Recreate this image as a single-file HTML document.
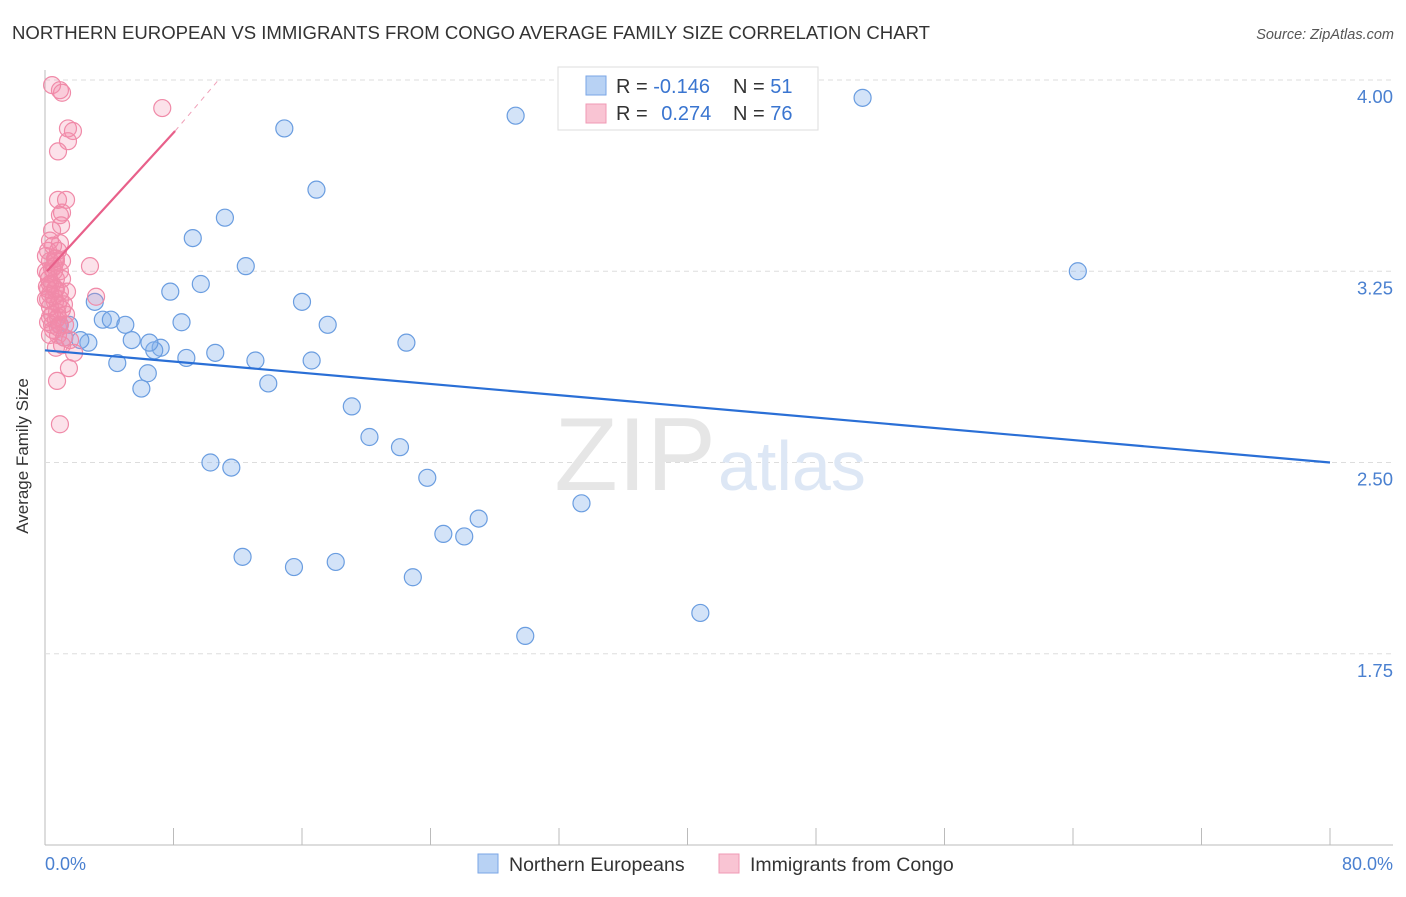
<!DOCTYPE html>
<html><head><meta charset="utf-8"><style>
body{margin:0;background:#fff;font-family:"Liberation Sans",sans-serif;}
svg text{font-family:"Liberation Sans",sans-serif;}
</style></head><body>
<svg width="1406" height="892">
<text x="12" y="39" font-size="18" fill="#333" textLength="918" lengthAdjust="spacingAndGlyphs">NORTHERN EUROPEAN VS IMMIGRANTS FROM CONGO AVERAGE FAMILY SIZE CORRELATION CHART</text>
<text x="1394" y="39" font-size="14.5" fill="#555" text-anchor="end" font-style="italic">Source: ZipAtlas.com</text>
<g id="grid"></g>
<text x="716" y="490" font-size="104" fill="#e6e6e6" text-anchor="end" font-family="Liberation Serif">ZIP</text>
<text x="718" y="490" font-size="70" fill="#dde7f5">atlas</text>
<g id="marks"></g>
<text x="28" y="456" font-size="17" fill="#333" text-anchor="middle" transform="rotate(-90 28 456)">Average Family Size</text>
<text x="45" y="870" font-size="18" fill="#4a80d0">0.0%</text>
<text x="1393" y="870" font-size="18" fill="#4a80d0" text-anchor="end">80.0%</text>
<g>
<rect x="558" y="67" width="260" height="63" fill="#fff" stroke="#ddd"/>
<rect x="586" y="76" width="20" height="19" fill="#b8d2f4" stroke="#7aa6e6"/>
<rect x="586" y="104" width="20" height="19" fill="#f9c4d3" stroke="#f09ab4"/>
<text x="616" y="93" font-size="20" fill="#333">R = <tspan fill="#3a75d0">-0.146</tspan></text>
<text x="733" y="93" font-size="20" fill="#333">N = <tspan fill="#3a75d0"> 51</tspan></text>
<text x="616" y="120" font-size="20" fill="#333">R = <tspan fill="#3a75d0" dx="8">0.274</tspan></text>
<text x="733" y="120" font-size="20" fill="#333">N = <tspan fill="#3a75d0">76</tspan></text>
</g>
<g>
<rect x="478" y="854" width="20" height="19" fill="#b8d2f4" stroke="#7aa6e6"/>
<text x="509" y="871" font-size="19.5" fill="#333">Northern Europeans</text>
<rect x="719" y="854" width="20" height="19" fill="#f9c4d3" stroke="#f09ab4"/>
<text x="750" y="871" font-size="19.5" fill="#333">Immigrants from Congo</text>
</g>
</svg>
<script>
const yTicks=[4.00,3.25,2.50,1.75];
const yTickLabels=["4.00","3.25","2.50","1.75"];
const xTicks=[0,8,16,24,32,40,48,56,64,72,80];
const blueX=[14.9,29.3,50.9,16.9,11.2,9.2,12.5,64.3,9.7,7.8,16.0,3.1,3.6,4.1,5.0,8.5,17.6,1.5,2.7,5.4,7.2,6.8,10.6,8.8,22.5,13.1,16.6,4.5,6.4,13.9,6.0,19.1,20.2,22.1,10.3,11.6,23.8,33.4,27.0,24.8,26.1,12.3,15.5,18.1,22.9,40.8,29.9,1.2,2.2,0.9,6.5];
const blueY=[3.81,3.86,3.93,3.57,3.46,3.38,3.27,3.25,3.20,3.17,3.13,3.13,3.06,3.06,3.04,3.05,3.04,3.04,2.97,2.98,2.95,2.94,2.93,2.91,2.97,2.90,2.90,2.89,2.85,2.81,2.79,2.72,2.60,2.56,2.50,2.48,2.44,2.34,2.28,2.22,2.21,2.13,2.09,2.11,2.05,1.91,1.82,2.99,2.98,3.04,2.97];
const pinkX=[0.44,0.93,1.06,7.3,1.43,1.74,1.43,0.81,0.81,1.31,1.06,0.93,1.0,0.44,0.31,0.93,0.81,0.68,0.31,2.8,0.44,0.93,0.19,0.68,0.44,0.12,0.62,0.93,0.31,1.37,3.18,0.19,0.62,1.06,1.31,0.31,0.68,0.19,0.93,1.25,0.5,0.81,1.56,1.06,0.68,1.81,1.49,0.75,0.93,0.19,0.56,0.06,0.31,0.81,1.18,0.44,0.68,1.06,0.06,0.56,0.81,0.31,0.44,0.93,0.19,0.68,0.56,1.06,0.31,0.81,0.06,0.5,1.18,0.75,0.25,0.62];
const pinkY=[3.98,3.96,3.95,3.89,3.81,3.80,3.76,3.72,3.53,3.53,3.48,3.47,3.43,3.41,3.37,3.36,3.33,3.30,3.29,3.27,3.26,3.25,3.24,3.22,3.20,3.19,3.18,3.17,3.16,3.17,3.15,3.14,3.13,3.10,3.08,3.07,3.06,3.05,3.04,3.04,3.02,3.00,2.98,2.96,2.95,2.93,2.87,2.82,2.65,3.18,3.27,3.31,3.11,3.07,2.99,3.04,3.29,3.22,3.25,3.15,3.12,3.20,3.08,3.14,3.33,3.18,3.25,3.29,3.00,3.03,3.14,3.35,3.12,3.09,3.22,3.30];
const blueTrendX=[0,80];
const blueTrendY=[2.94,2.50];
const pinkTrendX=[0.12,8.1];
const pinkTrendY=[3.25,3.80];
const pinkDashX=[8.1,10.8];
const pinkDashY=[3.80,4.00];
const sx=v=>45+v*(1285/80);
const sy=v=>80+(4-v)*255;
const NS="http://www.w3.org/2000/svg";
function mk(t,a,p){const e=document.createElementNS(NS,t);for(const k in a)e.setAttribute(k,a[k]);p.appendChild(e);return e;}
const grid=document.getElementById('grid'),marks=document.getElementById('marks');
const ax=mk('line',{x1:45,y1:70,x2:45,y2:845,stroke:'#bbb'},grid);


const bx=mk('line',{x1:45,y1:845,x2:1393,y2:845,stroke:'#bbb'},grid);


yTicks.forEach((v,i)=>{
 const g=mk('line',{x1:45,y1:sy(v),x2:1393,y2:sy(v),stroke:'#ddd','stroke-dasharray':'5,4'},grid);
 
 
 const t=mk('text',{x:1393,y:sy(v)+23,'font-size':18.5,fill:'#4a80d0','text-anchor':'end'},grid);
 t.textContent=yTickLabels[i];
 
 
});
xTicks.forEach(v=>{
 const l=mk('line',{x1:sx(v),y1:828,x2:sx(v),y2:845,stroke:'#bbb'},grid);
 
 
});
blueX.forEach((x,i)=>{
 const c=mk('circle',{cx:sx(x),cy:sy(blueY[i]),r:8.5,fill:'rgba(130,175,235,0.35)',stroke:'#6a9de0','stroke-width':1.2},marks);
 
 
});
pinkX.forEach((x,i)=>{
 const c=mk('circle',{cx:sx(x),cy:sy(pinkY[i]),r:8.5,fill:'rgba(245,140,170,0.25)',stroke:'#f08aa8','stroke-width':1.2},marks);
 
 
});
const bt=mk('line',{x1:sx(blueTrendX[0]),y1:sy(blueTrendY[0]),x2:sx(blueTrendX[1]),y2:sy(blueTrendY[1]),stroke:'#2a6fd6','stroke-width':2.2},marks);


const pt=mk('line',{x1:sx(pinkTrendX[0]),y1:sy(pinkTrendY[0]),x2:sx(pinkTrendX[1]),y2:sy(pinkTrendY[1]),stroke:'#e8608a','stroke-width':2.2},marks);


const pd=mk('line',{x1:sx(pinkDashX[0]),y1:sy(pinkDashY[0]),x2:sx(pinkDashX[1]),y2:sy(pinkDashY[1]),stroke:'#f0a0b8','stroke-width':1,'stroke-dasharray':'5,5'},marks);


</script>
</body></html>
